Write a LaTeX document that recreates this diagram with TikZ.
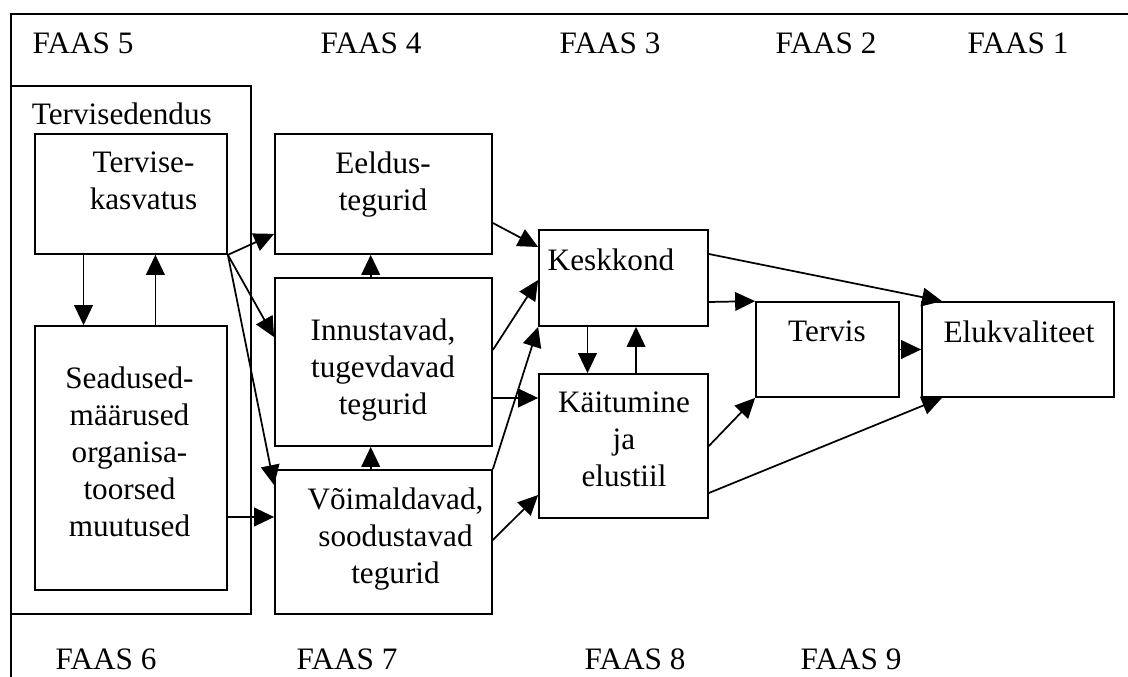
\documentclass[tikz,border=0pt]{standalone}
\usepackage{fontspec}
\setmainfont{Liberation Serif}
\usetikzlibrary{arrows.meta,fit}

\tikzset{
  box/.style={draw, line width=1.3pt, inner sep=0pt},
  txt/.style={align=center, inner sep=0pt, font=\fontsize{23.4}{27.75}\selectfont},
  arr/.style={-{Triangle[length=15pt,width=14pt]}, line width=1.3pt},
}

\begin{document}
\begin{tikzpicture}[x=0.75pt,y=-0.75pt]
        \clip (0,0) rectangle (1128,677);
        \draw[line width=1.3pt] (1128,14) -| (11,677);

        \node[txt] (faas5) at (83,43) {FAAS 5};
        \node[txt] (faas4) at (371,43) {FAAS 4};
        \node[txt] (faas3) at (610,43) {FAAS 3};
        \node[txt] (faas2) at (826,43) {FAAS 2};
        \node[txt] (faas1) at (1018,43) {FAAS 1};
        \node[txt] (faas6) at (106,659) {FAAS 6};
        \node[txt] (faas7) at (347,659) {FAAS 7};
        \node[txt] (faas8) at (635,659) {FAAS 8};
        \node[txt] (faas9) at (851,659) {FAAS 9};

        \node[box, fit={(11,86) (251,614)}] (dendus) {};
        \node[txt, anchor=west] (dendusT) at (31.7,113.5) {Tervisedendus};

        \node[box, fit={(35,134) (227,254)}] (kasvatus) {};
        \node[txt] (kasvatusT) at (143.5,181.3) {Tervise-\\kasvatus};
        \node[box, fit={(35,326) (227,590)}] (seadused) {};
        \node[txt] (seadusedT) at (129.5,451.8) {Seadused-\\määrused\\organisa-\\toorsed\\muutused};

        \node[box, fit={(275,134) (492,254)}] (eeldus) {};
        \node[txt] (eeldusT) at (383,184.3) {Eeldus-\\tegurid};
        \node[box, fit={(275,278) (492,446)}] (innust) {};
        \node[txt] (innustT) at (383,369.9) {Innustavad,\\tugevdavad\\tegurid};
        \node[box, fit={(275,470) (492,614)}] (voim) {};
        \node[txt] (voimT) at (395.5,538.7) {Võimaldavad,\\soodustavad\\tegurid};

        \node[box, fit={(539,230) (708,326)}] (kesk) {};
        \node[txt] (keskT) at (611,259.5) {Keskkond};
        \node[box, fit={(539,374) (708,518)}] (kait) {};
        \node[txt] (kaitT) at (624,439) {Käitumine\\ja\\elustiil};

        \node[box, fit={(756,302) (899,397)}] (tervis) {};
        \node[txt] (tervisT) at (827,331.5) {Tervis};
        \node[box, fit={(922,302) (1114,397)}] (eluk) {};
        \node[txt] (elukT) at (1019,331.5) {Elukvaliteet};

        \draw[arr] ([xshift=-35.6pt]kasvatus.south) -- ([xshift=-35.6pt]seadused.north);
        \draw[arr] ([xshift=18.3pt]seadused.north) -- ([xshift=18.3pt]kasvatus.south);
        \draw[arr] (kasvatus.south east) -- ([yshift=15.75pt]eeldus.south west);
        \draw[arr] (kasvatus.south east) -- ([yshift=-45pt]innust.north west);
        \draw[arr] (kasvatus.south east) -- ([yshift=-12pt]voim.north west);
        \draw[arr] ([yshift=-44.25pt]seadused.east) -- ([yshift=18.75pt]voim.west);

        \draw[arr] ([xshift=-9.6pt]innust.north) -- ([xshift=-9.6pt]eeldus.south);
        \draw[arr] ([xshift=-9.6pt]voim.north) -- ([xshift=-9.6pt]innust.south);
        \draw[arr] ([yshift=-21.75pt]eeldus.east) -- ([yshift=23.25pt]kesk.west);
        \draw[arr] ([yshift=9pt]innust.east) -- ([yshift=-1.5pt]kesk.west);
        \draw[arr] ([yshift=-27pt]innust.east) -- ([yshift=36pt]kait.west);
        \draw[arr] (voim.north east) -- (kesk.south west);
        \draw[arr] ([yshift=1.5pt]voim.east) -- ([yshift=-36.75pt]kait.west);

        \draw[arr] ([xshift=-27pt]kesk.south) -- ([xshift=-27pt]kait.north);
        \draw[arr] ([xshift=9.4pt]kait.north) -- ([xshift=9.4pt]kesk.south);
        \draw[arr] ([yshift=18pt]kesk.east) -- ([xshift=-57pt]eluk.north);
        \draw[arr] ([yshift=-18pt]kesk.east) -- (tervis.north west);
        \draw[arr] (tervis.east) -- (eluk.west);
        \draw[arr] (kait.east) -- (tervis.south west);
        \draw[arr] ([yshift=-35.25pt]kait.east) -- ([xshift=-57pt]eluk.south);
\end{tikzpicture}
\end{document}
